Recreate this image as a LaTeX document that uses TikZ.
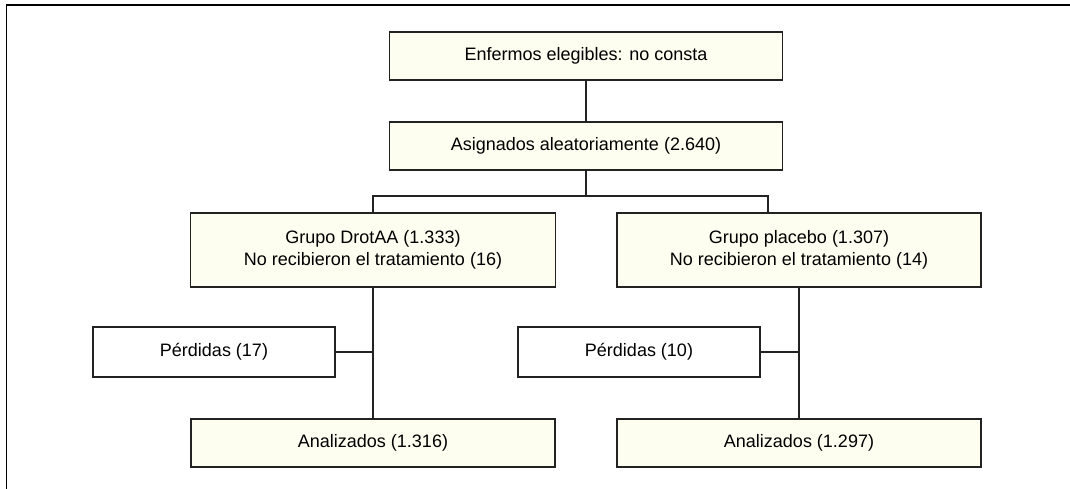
\documentclass[tikz,border=0pt]{standalone}
\usepackage{fontspec}
\setmainfont{Liberation Sans}
\usepackage{xcolor}
\definecolor{crema}{HTML}{FEFEF0}
\definecolor{linea}{HTML}{222222}

\begin{document}
\begin{tikzpicture}[x=1pt, y=-1pt,
  caja/.style={draw=linea, line width=1.2pt, fill=crema, rectangle, inner sep=0pt,
    align=center, font=\fontsize{18}{22.5}\selectfont},
  perdida/.style={caja, fill=white},
  enlace/.style={draw=linea, line width=1.2pt}]
\useasboundingbox (0,0) rectangle (1070,489);
\draw[line width=1.8pt] (6.5,489) -- (6.5,5) -- (1070,5);
\node[caja, minimum width=393pt, minimum height=48pt] (elig) at (586,56) {Enfermos elegibles: no consta};
\node[caja, minimum width=393pt, minimum height=48pt] (asig) at (586,146) {Asignados aleatoriamente (2.640)};
\node[caja, minimum width=365pt, minimum height=74pt] (drot) at (373,250) {Grupo DrotAA (1.333)\\No recibieron el tratamiento (16)};
\node[caja, minimum width=364pt, minimum height=74pt] (plac) at (799,250) {Grupo placebo (1.307)\\No recibieron el tratamiento (14)};
\node[perdida, minimum width=242pt, minimum height=50pt] (perd1) at (214,352) {Pérdidas (17)};
\node[perdida, minimum width=242pt, minimum height=50pt] (perd2) at (639,352) {Pérdidas (10)};
\node[caja, minimum width=364pt, minimum height=48pt] (anal1) at (373,443) {Analizados (1.316)};
\node[caja, minimum width=364pt, minimum height=48pt] (anal2) at (799,443) {Analizados (1.297)};
\coordinate (split) at (586,196);
\draw[enlace] (elig) -- (asig);
\draw[enlace] (asig) -- (split);
\draw[enlace] (drot.north) |- (split) -| ([xshift=-31pt]plac.north);
\draw[enlace] (drot) -- (anal1);
\draw[enlace] (plac) -- (anal2);
\draw[enlace] (perd1.east) -- (perd1.east -| drot.south);
\draw[enlace] (perd2.east) -- (perd2.east -| plac.south);
\end{tikzpicture}
\end{document}
